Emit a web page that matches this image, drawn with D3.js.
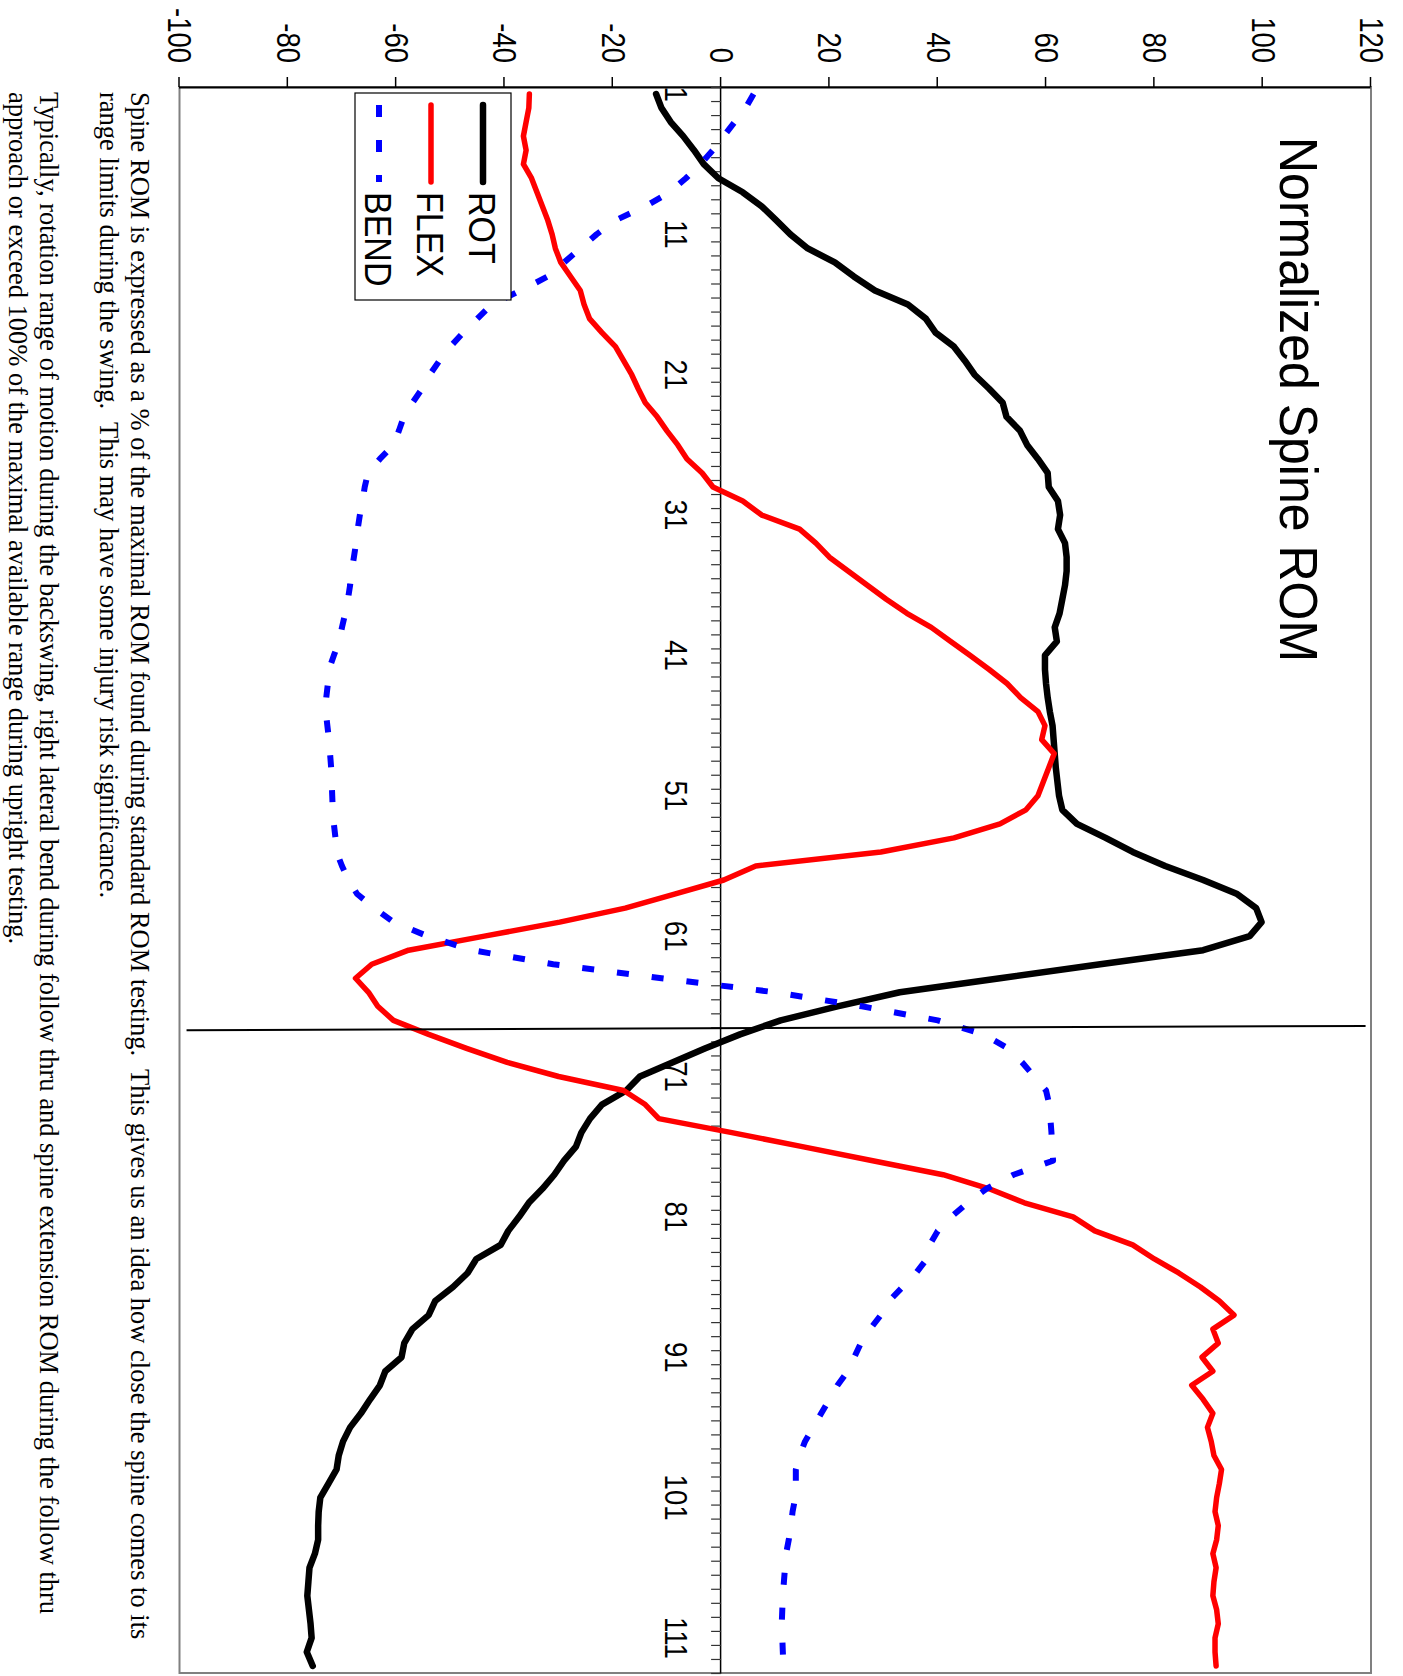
<!DOCTYPE html>
<html>
<head>
<meta charset="utf-8">
<title>Normalized Spine ROM</title>
<script src="https://cdn.jsdelivr.net/npm/d3@7"></script>
<style>
  html, body { margin: 0; padding: 0; background: #fff; }
  svg { display: block; }
</style>
</head>
<body>
<svg id="chart" width="1403" height="1676"></svg>
<script>
// Frame index (1..113) along the swing
const categories = d3.range(1, 114);

// Rotation, % of maximal ROM
const rot = [
  -12, -11, -9.3, -7, -5, -3.2, -0.5, 4, 7.5, 10.2,
  12.8, 16, 21, 24.5, 28.4, 34.5, 37.8, 39.6, 43, 45,
  46.8, 49.5, 52, 52.7, 55.2, 56.5, 58.5, 60.3, 60.5, 62.2,
  62.6, 62.2, 63.5, 63.8, 63.8, 63.5, 63, 62.5, 61.6, 62,
  59.8, 59.8, 60, 60.3, 60.7, 61.2, 61.4, 61.6, 61.8, 62.1,
  62.4, 63, 65.7, 71, 76, 82, 89, 95.3, 98.8, 99.8,
  97.6, 89, 70, 51.5, 33, 21.5, 11, 3.5, -3, -9,
  -15, -17.5, -22, -24.2, -25.8, -26.8, -29, -30.8, -33, -35.5,
  -37.3, -39.3, -40.7, -45.2, -46.8, -49.5, -52.8, -54, -57, -58.5,
  -59, -62, -63, -64.8, -66.5, -68.5, -69.8, -70.6, -71, -72.5,
  -74, -74.3, -74.4, -74.4, -75, -76, -76.2, -76.4, -76.1, -75.8,
  -75.6, -76.5, -75.4
];

// Flexion / extension, % of maximal ROM
const flex = [
  -35.4, -35.5, -36, -36.5, -36, -36.5, -35, -34, -33, -32,
  -31.2, -30.6, -29.6, -27.8, -26, -25.3, -24.3, -22, -19.5, -18,
  -16.5, -15.3, -14, -11.8, -10, -8, -6.3, -3.5, -1.5, 4,
  7.5, 14.5, 17.5, 20, 23.5, 27, 30.5, 34.3, 38.8, 42.4,
  46, 49.5, 52.8, 55.3, 58.5, 59.8, 59.2, 61.5, 60.5, 59.5,
  58.5, 56.3, 51.5, 43, 29.5, 6.4, 0.5, -8.6, -17.7, -29.8,
  -43.7, -57.7, -64.5, -67.5, -65.1, -63.4, -60.5, -54, -47, -39.5,
  -30, -18, -14, -11.5, 2, 15, 28, 41, 49.5, 56,
  65, 69, 76, 80, 84.5, 88.5, 92, 94.7, 90.8, 91.8,
  88.8, 90.8, 86.9, 89, 90.8, 89.8, 90.5, 91, 92.4, 92,
  91.5, 91.2, 91.8, 91.5, 90.8, 91.4, 91, 90.8, 91.5, 91.8,
  91.2, 91.2, 91.4
];

// Lateral bend, % of maximal ROM
const bend = [
  6, 4.5, 2.5, 0.5, -1.5, -3.8, -6.5, -9.5, -14, -19.5,
  -23, -26, -29, -32, -37, -42.4, -45, -47.6, -50, -52,
  -53.8, -55.2, -57, -58.6, -59.5, -60.5, -63, -65.2, -65.8, -66.2,
  -66.7, -67.1, -67.4, -67.8, -68.2, -68.5, -68.9, -69.4, -70, -70.5,
  -71.5, -72.4, -72.6, -72.9, -73, -72.7, -72.4, -72.2, -72, -71.9,
  -71.8, -71.7, -71.5, -71.2, -71, -70, -68.8, -67.2, -64, -60.5,
  -54.2, -46, -31, -11, 10, 26, 40, 48.5, 53, 55.6,
  57.8, 60, 60.6, 60.8, 61, 61.1, 61.3, 54, 49, 45.5,
  42.5, 40, 38.5, 38, 36, 33.5, 31, 29.5, 27.5, 25.8,
  24.6, 23.4, 21.5, 20, 18.5, 17, 15.5, 14.5, 13.8, 13.8,
  13.7, 13.2, 12.9, 12.5, 12, 11.8, 11.6, 11.4, 11.3, 11.2,
  11.3, 11.4, 11.5
];

const valueTicks = [-100, -80, -60, -40, -20, 0, 20, 40, 60, 80, 100, 120];
const categoryLabels = [1, 11, 21, 31, 41, 51, 61, 71, 81, 91, 101, 111];
const seriesNames = ["ROT", "FLEX", "BEND"];
const titleText = "Normalized Spine ROM";
const noteLines = [
  "Spine ROM is expressed as a % of the maximal ROM found during standard ROM testing.  This gives us an idea how close the spine comes to its",
  "range limits during the swing.  This may have some injury risk significance.",
  "Typically, rotation range of motion during the backswing, right lateral bend during follow thru and spine extension ROM during the follow thru",
  "approach or exceed 100% of the maximal available range during upright testing."
];
// Hand-drawn marker across the plot: [frame, value] at each end
const markerFrom = [67.7, -98.7];
const markerTo = [67.4, 119];

// ---------------------------------------------------------------------------
const W = 1403, H = 1676;
const svg = d3.select("#chart");

// The chart is laid out in landscape and turned a quarter clockwise onto the page
const root = svg.append("g").attr("transform", `translate(${W},0) rotate(90)`);

const plot = { left: 87, right: 1673, top: 32, bottom: 1223.5 };
const x = d3.scaleLinear().domain([0.5, categories.length + 0.5]).range([plot.left, plot.right]);
const y = d3.scaleLinear().domain([-100, 120]).range([plot.bottom, plot.top]);

const sans = "'Liberation Sans', Arial, Helvetica, sans-serif";
const serif = "'Liberation Serif', 'Times New Roman', Times, serif";

// plot frame
root.append("rect")
  .attr("x", plot.left).attr("y", plot.top)
  .attr("width", plot.right - plot.left).attr("height", plot.bottom - plot.top)
  .attr("fill", "#fff").attr("stroke", "#808080").attr("stroke-width", 2);

// title (sits inside the plot area)
root.append("text")
  .attr("transform", `translate(137,123) scale(1,1.06)`)
  .attr("font-family", sans).attr("font-size", 50).attr("fill", "#000")
  .text(titleText);

// value axis along the top edge of the frame
const yAxis = root.append("g")
  .attr("transform", `translate(${plot.left},0)`)
  .call(d3.axisLeft(y).tickValues(valueTicks).tickSize(10).tickSizeOuter(0)
    .tickPadding(14).tickFormat(d => String(d)));
yAxis.attr("font-family", sans).attr("font-size", 27.5);
yAxis.select(".domain").attr("stroke", "#000").attr("stroke-width", 2);
yAxis.selectAll(".tick line").attr("stroke", "#000").attr("stroke-width", 1.5);
yAxis.selectAll(".tick text").attr("fill", "#000").attr("transform", "scale(1,1.2)");

// category axis crossing at zero
const y0 = y(0);
const xTicks = root.append("g")
  .attr("transform", `translate(0,${y0})`)
  .call(d3.axisBottom(x).tickValues(d3.range(0.5, categories.length + 1, 1))
    .tickSize(10).tickSizeOuter(0).tickFormat(""));
xTicks.select(".domain").attr("stroke", "#000").attr("stroke-width", 1.5);
xTicks.selectAll(".tick line").attr("stroke", "#333").attr("stroke-width", 1.2);

root.append("g").selectAll("text")
  .data(categoryLabels)
  .join("text")
  .attr("transform", d => `translate(${x(d)},${y0 + 56}) scale(1,1.15)`)
  .attr("text-anchor", "middle")
  .attr("font-family", sans).attr("font-size", 27.5).attr("fill", "#000")
  .text(d => d);

// series
const seriesStyle = {
  ROT:  { color: "#000000", width: 6.5, dash: null },
  FLEX: { color: "#ff0000", width: 5.5, dash: null },
  BEND: { color: "#0000ff", width: 6,   dash: "12,23" }
};
const seriesData = { ROT: rot, FLEX: flex, BEND: bend };

const line = d3.line()
  .x((d, i) => x(categories[i]))
  .y(d => y(d))
  .curve(d3.curveLinear);

const lines = root.append("g");
seriesNames.forEach(name => {
  const s = seriesStyle[name];
  lines.append("path")
    .datum(seriesData[name])
    .attr("d", line)
    .attr("fill", "none")
    .attr("stroke", s.color)
    .attr("stroke-width", s.width)
    .attr("stroke-linejoin", "round")
    .attr("stroke-linecap", s.dash ? "butt" : "round")
    .attr("stroke-dasharray", s.dash);
});

// marker line
root.append("line")
  .attr("x1", x(markerFrom[0])).attr("y1", y(markerFrom[1]))
  .attr("x2", x(markerTo[0])).attr("y2", y(markerTo[1]))
  .attr("stroke", "#000").attr("stroke-width", 2);

// legend
const legend = root.append("g").attr("transform", "translate(93,892)");
legend.append("rect")
  .attr("width", 207).attr("height", 156)
  .attr("fill", "#fff").attr("stroke", "#000").attr("stroke-width", 1.2);
seriesNames.forEach((name, i) => {
  const s = seriesStyle[name];
  const cy = 28 + i * 52;
  legend.append("line")
    .attr("x1", 12).attr("x2", 89).attr("y1", cy).attr("y2", cy)
    .attr("stroke", s.color).attr("stroke-width", s.width)
    .attr("stroke-linecap", s.dash ? "butt" : "round")
    .attr("stroke-dasharray", s.dash);
  legend.append("text")
    .attr("transform", `translate(99,${cy + 14}) scale(1,1.1)`)
    .attr("font-family", sans).attr("font-size", 34).attr("fill", "#000")
    .text(name);
});

// notes below the chart
const noteBaselines = [1272, 1303, 1363, 1394];
root.append("g").selectAll("text")
  .data(noteLines)
  .join("text")
  .attr("x", 92)
  .attr("y", (d, i) => noteBaselines[i])
  .attr("font-family", serif).attr("font-size", 26.5).attr("fill", "#000")
  .style("white-space", "pre")
  .text(d => d);
</script>
</body>
</html>
